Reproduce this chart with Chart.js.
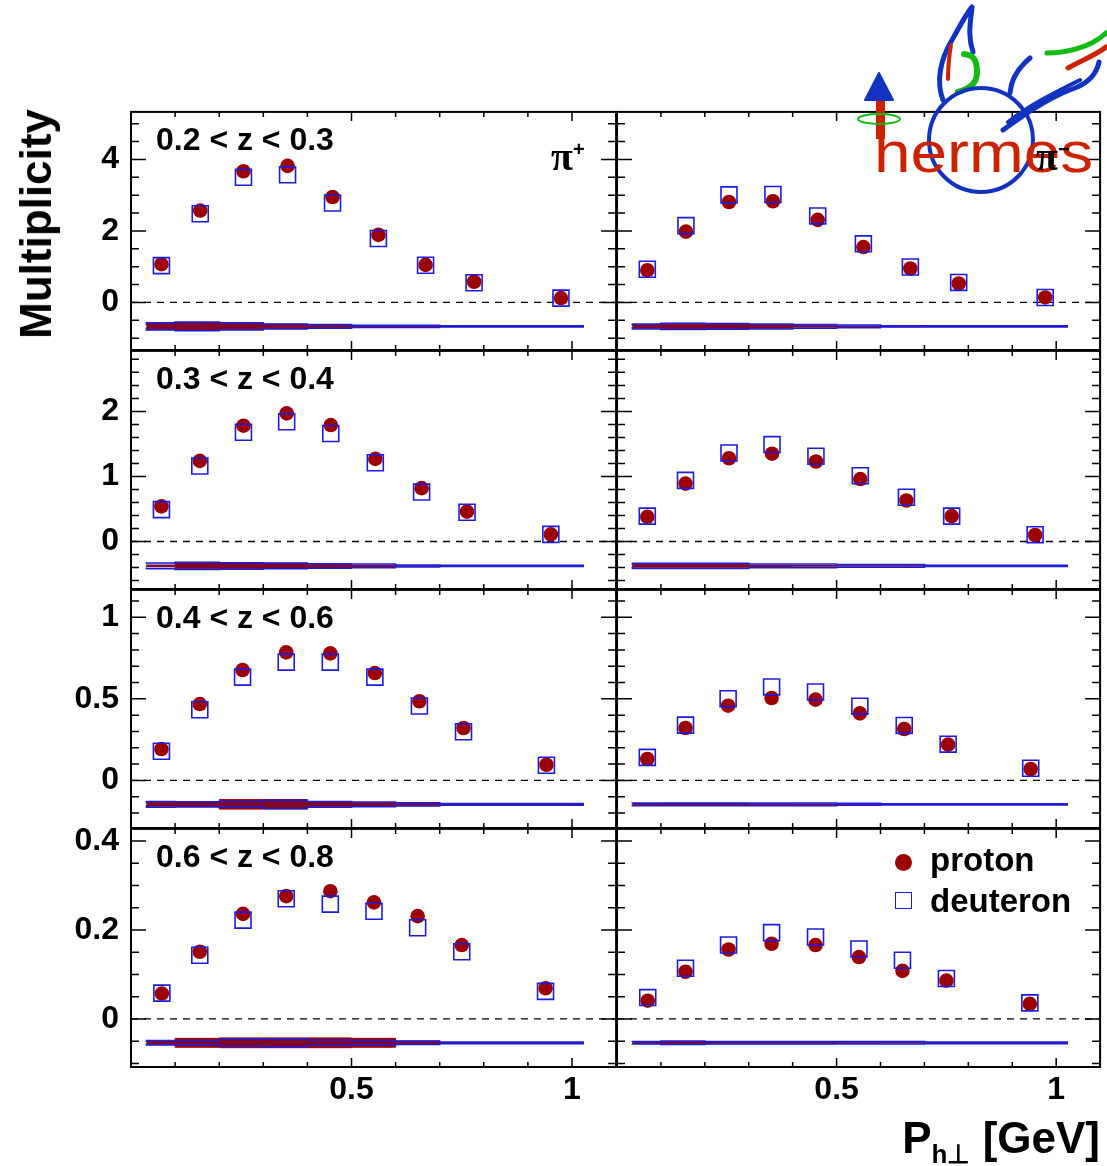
<!DOCTYPE html>
<html>
<head>
<meta charset="utf-8">
<script src="https://cdn.jsdelivr.net/npm/chart.js@4.4.1/dist/chart.umd.min.js"></script>
<style>
  body { margin: 0; background: #fff; }
  #page { position: relative; width: 1107px; height: 1166px; overflow: hidden; font-family: 'Liberation Sans', Arial, sans-serif; }
  #page canvas { position: absolute; }
  .lbl { position: absolute; font-weight: bold; color: #000; white-space: nowrap; line-height: 1; }
</style>
</head>
<body>
<div id="page"></div>
<script>
// z-bins (rows) and mean P_h⊥ of each P_h⊥ bin
const zBins = ['0.2 < z < 0.3', '0.3 < z < 0.4', '0.4 < z < 0.6', '0.6 < z < 0.8'];
const ptMean = [
  [0.069, 0.157, 0.255, 0.355, 0.457, 0.561, 0.668, 0.778, 0.975],
  [0.069, 0.156, 0.255, 0.353, 0.453, 0.554, 0.659, 0.762, 0.952],
  [0.069, 0.156, 0.253, 0.352, 0.452, 0.553, 0.654, 0.754, 0.942],
  [0.070, 0.156, 0.254, 0.352, 0.452, 0.551, 0.650, 0.750, 0.940]
];
const binEdges = [0.035, 0.1, 0.2, 0.3, 0.4, 0.5, 0.6, 0.7, 0.8, 1.027];

// multiplicities, pi+
const protonPip = [
  [1.07, 2.57, 3.67, 3.82, 2.95, 1.89, 1.05, 0.58, 0.12],
  [0.54, 1.24, 1.78, 1.97, 1.79, 1.27, 0.82, 0.46, 0.11],
  [0.192, 0.468, 0.677, 0.785, 0.779, 0.658, 0.485, 0.321, 0.096],
  [0.057, 0.151, 0.236, 0.276, 0.287, 0.262, 0.231, 0.166, 0.069]
];
const deuteronPip = [
  [1.03, 2.48, 3.50, 3.57, 2.78, 1.79, 1.04, 0.55, 0.12],
  [0.49, 1.16, 1.68, 1.84, 1.66, 1.21, 0.76, 0.45, 0.11],
  [0.179, 0.433, 0.633, 0.725, 0.725, 0.633, 0.456, 0.298, 0.093],
  [0.058, 0.143, 0.222, 0.270, 0.258, 0.242, 0.205, 0.151, 0.062]
];
// multiplicities, pi-
const protonPim = [
  [0.90, 1.98, 2.81, 2.83, 2.31, 1.55, 0.95, 0.53, 0.14],
  [0.38, 0.89, 1.28, 1.35, 1.23, 0.96, 0.63, 0.39, 0.10],
  [0.131, 0.321, 0.458, 0.505, 0.495, 0.411, 0.315, 0.219, 0.070],
  [0.041, 0.106, 0.156, 0.169, 0.166, 0.139, 0.108, 0.086, 0.034]
];
const deuteronPim = [
  [0.93, 2.15, 3.01, 3.02, 2.42, 1.64, 0.99, 0.56, 0.14],
  [0.39, 0.94, 1.36, 1.49, 1.31, 1.01, 0.68, 0.39, 0.105],
  [0.141, 0.339, 0.501, 0.573, 0.542, 0.455, 0.337, 0.222, 0.074],
  [0.048, 0.114, 0.166, 0.194, 0.184, 0.157, 0.132, 0.091, 0.036]
];

// systematic uncertainties (half height of the bands), bands drawn at sysOffset
const sysOffset = [-0.67, -0.375, -0.147, -0.0536];
const sysProtonPip = [
  [0.02, 0.09, 0.11, 0.09, 0.06, 0.03, 0.01, 0.01, 0.005],
  [0.005, 0.012, 0.045, 0.045, 0.04, 0.025, 0.01, 0, 0],
  [0.003, 0.012, 0.014, 0.029, 0.029, 0.015, 0.010, 0.008, 0],
  [0.001, 0.004, 0.010, 0.011, 0.011, 0.011, 0.010, 0.004, 0]
];
const sysDeuteronPip = [
  [0.03, 0.10, 0.12, 0.10, 0.07, 0.05, 0.03, 0.03, 0.02],
  [0.025, 0.045, 0.055, 0.05, 0.045, 0.035, 0.03, 0.015, 0.01],
  [0.006, 0.018, 0.016, 0.018, 0.025, 0.018, 0.014, 0.010, 0.005],
  [0.002, 0.005, 0.005, 0.008, 0.009, 0.006, 0.005, 0.004, 0.002]
];
const sysProtonPim = [
  [0.01, 0.05, 0.06, 0.06, 0.05, 0.02, 0.01, 0.01, 0.005],
  [0.005, 0.02, 0.02, 0.02, 0.01, 0.005, 0, 0, 0],
  [0.002, 0.005, 0.006, 0.006, 0.003, 0.002, 0, 0, 0],
  [0.001, 0.002, 0.003, 0.002, 0.002, 0.002, 0.001, 0, 0]
];
const sysDeuteronPim = [
  [0.02, 0.07, 0.09, 0.08, 0.07, 0.05, 0.04, 0.02, 0.02],
  [0.012, 0.04, 0.04, 0.04, 0.03, 0.03, 0.02, 0.02, 0.01],
  [0.004, 0.008, 0.008, 0.009, 0.008, 0.008, 0.006, 0.004, 0.004],
  [0.002, 0.003, 0.004, 0.003, 0.003, 0.003, 0.003, 0.003, 0.002]
];

// axes
const yMin = [-1.33, -0.73, -0.292, -0.108];
const yMax = [5.33, 2.93, 1.168, 0.427];
const yStep = [0.5, 0.2, 0.1, 0.05];
const yLabels = [[0, 2, 4], [0, 1, 2], [0, 0.5, 1], [0, 0.2, 0.4]];
const xMin = 0, xMax = 1.1, xStep = 0.1;
const xLabels = [0.5, 1];

// page layout (pixels)
const colX = [131, 617, 1101];
const rowY = [111, 350, 589, 828, 1067];
const LW = 130, PR = 12, PT = 12, BH = 60;

const RED = '#9c0000', BLUE = '#1c1ce0';
const tickFont = { family: "'Liberation Sans', Arial, sans-serif", weight: 'bold', size: 32 };

function tickList(min, max, step) {
  const out = [];
  for (let k = Math.ceil(min / step - 1e-9); k * step <= max + 1e-9; k++) out.push(+(k * step).toFixed(4));
  return out;
}
const isMajor = (v, list) => list.some(m => Math.abs(m - v) < 1e-6);
const pts = (xs, ys) => xs.map((x, i) => ({ x: x, y: ys[i] }));
function bandEdge(sys, base, sign) {
  return binEdges.map((e, i) => ({ x: e, y: base + sign * sys[Math.min(i, sys.length - 1)] }));
}

// frame and inward ticks on all four sides, ROOT style
const frameTicks = {
  id: 'frameTicks',
  afterDatasetsDraw(chart, args, opts) {
    const { ctx, chartArea: a, scales: { x, y } } = chart;
    ctx.save();
    ctx.strokeStyle = '#000';
    ctx.lineWidth = 1.5;
    ctx.beginPath();
    y.ticks.forEach(t => {
      const py = y.getPixelForValue(t.value);
      const len = isMajor(t.value, opts.yMajor) ? 15 : 8;
      ctx.moveTo(a.left, py); ctx.lineTo(a.left + len, py);
      ctx.moveTo(a.right, py); ctx.lineTo(a.right - len, py);
    });
    x.ticks.forEach(t => {
      const px = x.getPixelForValue(t.value);
      const len = isMajor(t.value, xLabels) ? 9 : 5;
      ctx.moveTo(px, a.bottom); ctx.lineTo(px, a.bottom - len);
      ctx.moveTo(px, a.top); ctx.lineTo(px, a.top + len);
    });
    ctx.stroke();
    ctx.lineWidth = 2;
    ctx.strokeRect(a.left, a.top, a.right - a.left, a.bottom - a.top);
    ctx.restore();
  }
};

const page = document.getElementById('page');

function panel(r, c) {
  const x0 = colX[c], x1 = colX[c + 1], y0 = rowY[r], y1 = rowY[r + 1];
  const W = LW + (x1 - x0) + PR, H = PT + (y1 - y0) + BH;
  const cv = document.createElement('canvas');
  cv.width = W; cv.height = H;
  cv.style.left = (x0 - LW) + 'px'; cv.style.top = (y0 - PT) + 'px';
  cv.style.width = W + 'px'; cv.style.height = H + 'px';
  page.appendChild(cv);

  const prot = c === 0 ? protonPip[r] : protonPim[r];
  const deut = c === 0 ? deuteronPip[r] : deuteronPim[r];
  const sysP = c === 0 ? sysProtonPip[r] : sysProtonPim[r];
  const sysD = c === 0 ? sysDeuteronPip[r] : sysDeuteronPim[r];
  const base = sysOffset[r];
  const line = { showLine: true, pointRadius: 0, stepped: 'after' };

  new Chart(cv, {
    type: 'scatter',
    data: {
      datasets: [
        { label: 'deuteron', data: pts(ptMean[r], deut), pointStyle: 'rect', pointRadius: 11.3,
          backgroundColor: 'rgba(0,0,0,0)', borderColor: BLUE, borderWidth: 1.6, order: 0 },
        { label: 'proton', data: pts(ptMean[r], prot), pointStyle: 'circle', pointRadius: 7.3,
          backgroundColor: RED, borderColor: RED, borderWidth: 0, order: 1 },
        Object.assign({ data: bandEdge(sysD, base, 1), borderColor: BLUE, borderWidth: 1.5,
          backgroundColor: 'rgba(30,30,210,0.2)', fill: '+1', order: 3 }, line),
        Object.assign({ data: bandEdge(sysD, base, -1), borderColor: BLUE, borderWidth: 1.5,
          fill: false, order: 3 }, line),
        Object.assign({ data: bandEdge(sysP, base, 1), borderColor: RED, borderWidth: 1,
          backgroundColor: RED, fill: '+1', order: 4 }, line),
        Object.assign({ data: bandEdge(sysP, base, -1), borderColor: RED, borderWidth: 1,
          fill: false, order: 4 }, line),
        { data: [{ x: xMin, y: 0 }, { x: xMax, y: 0 }], showLine: true, pointRadius: 0,
          borderColor: '#000', borderWidth: 1.3, borderDash: [7, 6], order: 5 }
      ]
    },
    options: {
      responsive: false,
      devicePixelRatio: 1,
      animation: false,
      events: [],
      layout: { padding: { left: 0, right: PR, top: PT, bottom: 0 } },
      plugins: { legend: { display: false }, tooltip: { enabled: false }, frameTicks: { yMajor: yLabels[r] } },
      scales: {
        x: {
          type: 'linear', min: xMin, max: xMax, bounds: 'data',
          afterBuildTicks: s => { s.ticks = tickList(xMin, xMax, xStep).map(v => ({ value: v })); },
          afterFit: s => { s.height = BH; s.paddingLeft = 0; s.paddingRight = 0; },
          grid: { display: false, drawTicks: false },
          border: { display: false },
          ticks: { autoSkip: false, maxRotation: 0, minRotation: 0, padding: 4, color: '#000', font: tickFont,
            callback: v => (r === 3 && isMajor(v, xLabels)) ? String(v) : '' }
        },
        y: {
          type: 'linear', min: yMin[r], max: yMax[r], bounds: 'data',
          afterBuildTicks: s => { s.ticks = tickList(yMin[r], yMax[r], yStep[r]).map(v => ({ value: v })); },
          afterFit: s => { s.width = LW; s.paddingTop = 0; s.paddingBottom = 0; },
          grid: { display: false, drawTicks: false },
          border: { display: false },
          ticks: { autoSkip: false, padding: 12, color: '#000', font: tickFont,
            callback: v => (c === 0 && isMajor(v, yLabels[r])) ? String(v) : '' }
        }
      }
    },
    plugins: [frameTicks]
  });
}

for (let r = 0; r < 4; r++) for (let c = 0; c < 2; c++) panel(r, c);

function addLabel(html, style) {
  const d = document.createElement('div');
  d.className = 'lbl';
  d.innerHTML = html;
  Object.assign(d.style, style);
  page.appendChild(d);
  return d;
}

zBins.forEach((t, r) => addLabel(t, { left: '156px', top: (rowY[r] + 12) + 'px', fontSize: '32px' }));

addLabel('Multiplicity', { left: '36px', top: '224px', fontSize: '44px', transform: 'translate(-50%,-50%) rotate(-90deg)' });
addLabel('P<span style="font-size:26px;position:relative;top:10px">h\u22A5</span> [GeV]',
  { right: '7px', top: '1116px', fontSize: '44px' });

// legend
addLabel('', { left: '895px', top: '854px', width: '17px', height: '17px', borderRadius: '50%', background: RED });
addLabel('', { left: '895px', top: '892px', width: '17px', height: '17px', boxSizing: 'border-box', border: '1.6px solid ' + BLUE });
addLabel('proton', { left: '930px', top: '843px', fontSize: '33px' });
addLabel('deuteron', { left: '930px', top: '884px', fontSize: '33px' });

// hermes logo
const logo = document.createElementNS('http://www.w3.org/2000/svg', 'svg');
logo.setAttribute('width', '1107');
logo.setAttribute('height', '200');
logo.style.position = 'absolute';
logo.style.left = '0px';
logo.style.top = '0px';
logo.innerHTML = `
  <g fill="none" stroke-linecap="round" stroke-linejoin="round">
    <path d="M943,100 C936,82 940,60 952,40 C960,26 966,14 972,7 C971,20 967,34 973,52" stroke="#1233c0" stroke-width="5"/>
    <path d="M951,45 C949,57 948,68 948,79" stroke="#cc2200" stroke-width="4"/>
    <path d="M964,54 C972,55 977,58 977,72 C977,82 972,88 958,92" stroke="#11bb11" stroke-width="6"/>
    <path d="M1003,130 C1030,110 1055,95 1075,88 C1090,82 1097,72 1099,62" stroke="#1233c0" stroke-width="5"/>
    <path d="M1008,122 C1030,105 1050,95 1080,80" stroke="#1233c0" stroke-width="4"/>
    <path d="M1010,93 C1011,80 1018,68 1030,58" stroke="#1233c0" stroke-width="5"/>
    <path d="M1047,53 C1065,53 1090,48 1106,33" stroke="#11bb11" stroke-width="5"/>
    <path d="M1068,68 C1082,60 1096,55 1106,47" stroke="#cc2200" stroke-width="5"/>
    <circle cx="981" cy="140" r="52" stroke="#1233c0" stroke-width="4"/>
  </g>
  <rect x="876" y="99" width="9" height="40" fill="#cc2200"/>
  <path d="M879,73 L893,100 L865,100 Z" fill="#1233c0" stroke="#1233c0" stroke-width="2" stroke-linejoin="round"/>
  <ellipse cx="879" cy="119" rx="21" ry="5" fill="none" stroke="#11bb11" stroke-width="2"/>
  <text x="874" y="172" font-family="Liberation Sans, Arial, sans-serif" font-size="58" fill="#cc2200"
        textLength="219" lengthAdjust="spacingAndGlyphs">hermes</text>`;
page.appendChild(logo);

// pion labels
addLabel('<span style="font-family:\'Liberation Serif\',serif">\u03C0</span><sup style="font-size:20px">+</sup>',
  { left: '551px', top: '136px', fontSize: '40px' });
addLabel('<span style="font-family:\'Liberation Serif\',serif">\u03C0</span><sup style="font-size:20px">\u2212</sup>',
  { left: '1036px', top: '136px', fontSize: '40px' });
</script>
</body>
</html>
